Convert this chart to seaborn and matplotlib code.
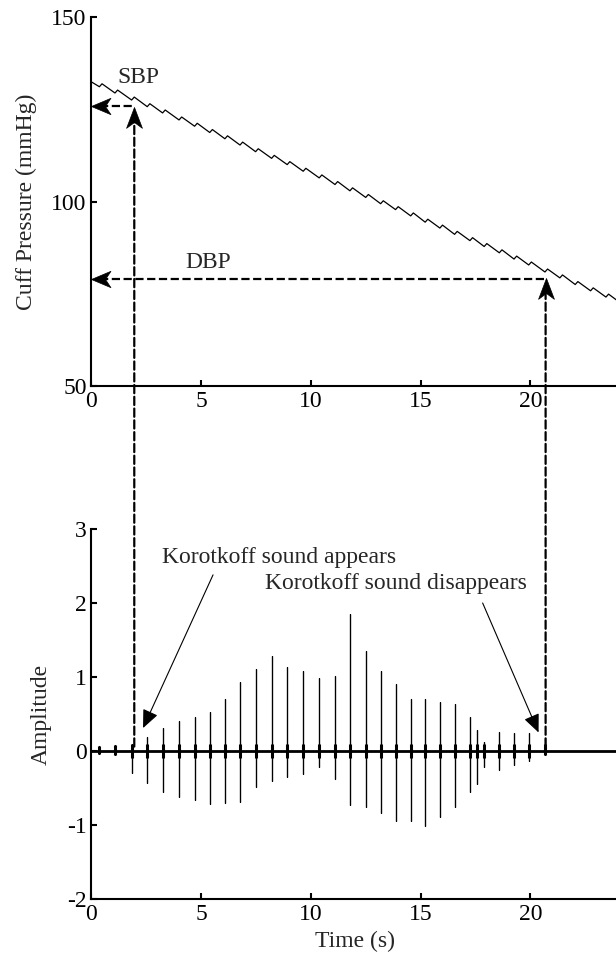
import numpy as np
import pandas as pd
import matplotlib
matplotlib.use("Agg")
import matplotlib.pyplot as plt
import seaborn as sns
from matplotlib.patches import ConnectionPatch
from matplotlib.path import Path

# ---------------- data ----------------
pressure_t = [0.00, 0.36, 0.48, 1.07, 1.19, 1.83, 1.95, 2.54, 2.66, 3.24, 3.36,
              3.99, 4.11, 4.70, 4.82, 5.39, 5.51, 6.08, 6.20, 6.77, 6.89,
              7.48, 7.60, 8.21, 8.33, 8.92, 9.04, 9.65, 9.77, 10.38, 10.50,
              11.10, 11.22, 11.78, 11.90, 12.50, 12.62, 13.18, 13.30, 13.86, 13.98,
              14.55, 14.67, 15.21, 15.33, 15.88, 16.00, 16.55, 16.67, 17.25, 17.37,
              17.90, 18.02, 18.59, 18.71, 19.26, 19.38, 19.93, 20.05, 20.67, 20.79,
              21.35, 21.47, 22.05, 22.17, 22.75, 22.87, 23.45, 23.57, 24.00]
pressure_v = [132.4, 131.1, 131.9, 129.4, 130.2, 127.5, 128.3, 125.7, 126.5, 124.0, 124.8,
              122.1, 122.9, 120.4, 121.2, 118.7, 119.5, 117.0, 117.8, 115.3, 116.1,
              113.5, 114.3, 111.7, 112.5, 110.0, 110.8, 108.2, 109.0, 106.4, 107.2,
              104.6, 105.4, 102.9, 103.7, 101.1, 101.9, 99.4, 100.2, 97.8, 98.6,
              96.1, 96.9, 94.4, 95.2, 92.8, 93.6, 91.1, 91.9, 89.4, 90.2,
              87.8, 88.6, 86.1, 86.9, 84.4, 85.2, 82.8, 83.6, 80.9, 81.7,
              79.3, 80.1, 77.5, 78.3, 75.8, 76.6, 74.1, 74.9, 73.0]

beat_t = [0.36, 1.07, 1.83, 2.54, 3.24, 3.99, 4.70, 5.39, 6.08, 6.77, 7.48, 8.21,
          8.92, 9.65, 10.38, 11.10, 11.78, 12.50, 13.18, 13.86, 14.55, 15.21,
          15.88, 16.55, 17.25, 17.56, 17.90, 18.59, 19.26, 19.93, 20.67]
beat_up = [0.07, 0.08, 0.10, 0.19, 0.31, 0.40, 0.46, 0.53, 0.70, 0.93, 1.11, 1.28,
           1.13, 1.08, 0.98, 1.01, 1.85, 1.35, 1.08, 0.91, 0.70, 0.70,
           0.66, 0.63, 0.46, 0.28, 0.12, 0.26, 0.25, 0.25, 0.17]
beat_down = [-0.04, -0.05, -0.30, -0.43, -0.55, -0.62, -0.66, -0.72, -0.70, -0.69, -0.48, -0.41,
             -0.35, -0.31, -0.21, -0.38, -0.73, -0.76, -0.84, -0.95, -0.95, -1.01,
             -0.89, -0.75, -0.55, -0.45, -0.22, -0.25, -0.19, -0.14, -0.06]

sbp_t, sbp_p = 1.95, 125.9
dbp_t, dbp_p = 20.7, 79.0

p_xticks = [0, 5, 10, 15, 20]
p_yticks = [50, 100, 150]
a_yticks = [-2, -1, 0, 1, 2, 3]

# ---------------- style ----------------
sns.set_style("ticks")
plt.rcParams["font.family"] = ["Liberation Serif", "DejaVu Serif"]
plt.rcParams["font.size"] = 17
plt.rcParams["axes.unicode_minus"] = False
plt.rcParams["axes.linewidth"] = 1.5
plt.rcParams["xtick.direction"] = "in"
plt.rcParams["ytick.direction"] = "in"
plt.rcParams["xtick.major.size"] = 4
plt.rcParams["ytick.major.size"] = 4
plt.rcParams["xtick.major.width"] = 1.5
plt.rcParams["ytick.major.width"] = 1.5
plt.rcParams["xtick.color"] = "black"
plt.rcParams["ytick.color"] = "black"
plt.rcParams["axes.edgecolor"] = "black"

W, H = 616, 959
fig = plt.figure(figsize=(W / 100, H / 100), dpi=100)
left = 91.5 / W
width = 526.5 / W
ax1 = fig.add_axes([left, 1 - 386 / H, width, (386 - 17) / H])
ax2 = fig.add_axes([left, 1 - 899 / H, width, (899 - 529) / H])

# stealth-style arrowhead markers (tip at the marker origin)
head_left = Path([(0, 0), (1, 0.42), (0.72, 0), (1, -0.42), (0, 0)],
                 [Path.MOVETO, Path.LINETO, Path.LINETO, Path.LINETO, Path.CLOSEPOLY])
head_up = Path([(0, 0), (0.38, -1), (0, -0.72), (-0.38, -1), (0, 0)],
               [Path.MOVETO, Path.LINETO, Path.LINETO, Path.LINETO, Path.CLOSEPOLY])

# ---------------- top: cuff pressure ----------------
dfp = pd.DataFrame({"t": pressure_t, "p": pressure_v})
sns.lineplot(data=dfp, x="t", y="p", ax=ax1, color="black", lw=0.9,
             estimator=None, sort=False)
ax1.set_xlim(0, 24)
ax1.set_ylim(50, 150)
ax1.set_xticks(p_xticks)
ax1.set_yticks(p_yticks)
ax1.set_xlabel("")
ax1.set_ylabel("Cuff Pressure (mmHg)")
ax1.yaxis.set_label_coords(-0.103, 0.5)
sns.despine(ax=ax1)

# SBP / DBP horizontal dashed lines with heads
ax1.plot([0.4, sbp_t], [sbp_p, sbp_p], ls="--", color="black", lw=1.6)
ax1.plot([0.4, dbp_t], [dbp_p, dbp_p], ls="--", color="black", lw=1.6)
ax1.plot([0, 0], [sbp_p, dbp_p], ls="none", marker=head_left, ms=28,
         color="black", mew=0.5, clip_on=False)
# vertical heads
ax1.plot([sbp_t, dbp_t], [sbp_p - 0.2, dbp_p + 0.2], ls="none", marker=head_up, ms=30,
         color="black", mew=0.5, clip_on=False)
ax1.text(1.16, 133.5, "SBP", ha="left", va="center")
ax1.text(4.26, 83.6, "DBP", ha="left", va="center")

# ---------------- bottom: Korotkoff sound ----------------
sx, sy = [0.0], [0.0]
for t, u, d in zip(beat_t, beat_up, beat_down):
    sx += [t, t, t, t]
    sy += [0.0, u, d, 0.0]
sx.append(24.0)
sy.append(0.0)
dfs = pd.DataFrame({"t": sx, "a": sy})
sns.lineplot(data=dfs, x="t", y="a", ax=ax2, color="black", lw=0.85,
             estimator=None, sort=False)
ax2.axhline(0, color="black", lw=2.0)
ax2.vlines(beat_t, np.maximum(beat_down, -0.09), np.minimum(beat_up, 0.09),
           color="black", lw=2.2)
ax2.set_xlim(0, 24)
ax2.set_ylim(-2, 3)
ax2.set_xticks(p_xticks)
ax2.set_yticks(a_yticks)
ax2.set_xlabel("Time (s)")
ax2.set_ylabel("Amplitude")
ax2.yaxis.set_label_coords(-0.076, 0.5)
sns.despine(ax=ax2)

thin = dict(arrowstyle="-|>,head_length=0.8,head_width=0.35", color="black",
            lw=0.8, mutation_scale=14, shrinkA=0, shrinkB=0)
ax2.annotate("", xy=(2.35, 0.31), xytext=(5.54, 2.38), arrowprops=thin)
ax2.text(8.55, 2.61, "Korotkoff sound appears", ha="center", va="center")
ax2.annotate("", xy=(20.38, 0.25), xytext=(17.83, 2.0), arrowprops=thin)
ax2.text(13.9, 2.27, "Korotkoff sound disappears", ha="center", va="center")

# ---------------- connecting dashed verticals ----------------
for xt, yt in [(sbp_t, sbp_p - 3), (dbp_t, dbp_p - 3)]:
    con = ConnectionPatch(xyA=(xt, 0.06), coordsA=ax2.transData,
                          xyB=(xt, yt), coordsB=ax1.transData,
                          color="black", lw=1.6, ls="--", arrowstyle="-")
    fig.add_artist(con)

fig.savefig("out.png", dpi=100)
